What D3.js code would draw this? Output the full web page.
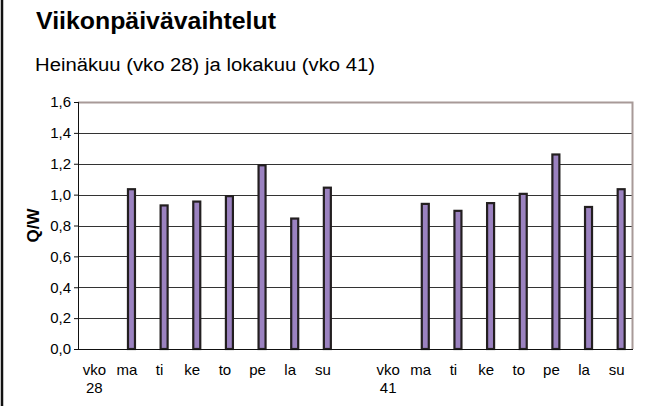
<!DOCTYPE html>
<meta charset="utf-8">
<style>
body { margin: 0; background: #fff; }
svg text { font-family: "Liberation Sans", Arial, sans-serif; fill: #000; }
</style>
<svg width="652" height="406"></svg>
<script src="https://d3js.org/d3.v7.min.js"></script>
<script>

// categories: vko 28 block, one empty slot, vko 41 block
var days = ["ma", "ti", "ke", "to", "pe", "la", "su"];
var week28 = [1.035, 0.93, 0.955, 0.99, 1.19, 0.845, 1.045];
var week41 = [0.94, 0.895, 0.945, 1.005, 1.26, 0.92, 1.035];
var yTicks = [0, 0.2, 0.4, 0.6, 0.8, 1.0, 1.2, 1.4, 1.6];

var slots = ["vko 28"].concat(days.map(function(d) { return "28-" + d; }))
    .concat(["gap", "vko 41"]).concat(days.map(function(d) { return "41-" + d; }));

var data = days.map(function(d, i) { return {key: "28-" + d, value: week28[i]}; })
    .concat(days.map(function(d, i) { return {key: "41-" + d, value: week41[i]}; }));

var svg = d3.select("svg");
var margin = {top: 102, right: 19, bottom: 57, left: 78};
var width = 652 - margin.left - margin.right,
    height = 406 - margin.top - margin.bottom;

// left frame line
svg.append("line")
    .attr("x1", 2).attr("x2", 2).attr("y1", 0).attr("y2", 406)
    .attr("stroke", "#111").attr("stroke-width", 2.5);

svg.append("text")
    .attr("x", 36).attr("y", 29)
    .style("font-size", "23px").style("font-weight", "bold")
    .attr("textLength", 240).attr("lengthAdjust", "spacingAndGlyphs")
    .text("Viikonpäivävaihtelut");
svg.append("text")
    .attr("x", 35).attr("y", 71)
    .style("font-size", "18px")
    .attr("textLength", 340).attr("lengthAdjust", "spacingAndGlyphs")
    .text("Heinäkuu (vko 28) ja lokakuu (vko 41)");

var g = svg.append("g").attr("transform", "translate(" + margin.left + "," + margin.top + ")");

var x = d3.scaleBand().domain(slots).range([0, width]);
var y = d3.scaleLinear().domain([0, 1.6]).range([height, 0]);

// gridlines
g.selectAll(".grid")
  .data(yTicks.slice(1, -1))
  .enter().append("line")
    .attr("x1", 0).attr("x2", width)
    .attr("y1", function(d) { return Math.round(y(d)) + 0.5; })
    .attr("y2", function(d) { return Math.round(y(d)) + 0.5; })
    .attr("stroke", "#333").attr("stroke-width", 1);

// plot area border (top and right)
g.append("path")
    .attr("d", "M0,0.5H" + (width - 0.5) + "V" + height)
    .attr("fill", "none").attr("stroke", "#a89a98").attr("stroke-width", 2);

// bars, drawn from the band centre to the right
var barW = 9;
g.selectAll(".bar")
  .data(data)
  .enter().append("rect")
    .attr("x", function(d) { return x(d.key) + x.bandwidth() / 2 + 1; })
    .attr("y", function(d) { return y(d.value); })
    .attr("width", barW - 2)
    .attr("height", function(d) { return height - y(d.value); })
    .attr("fill", "#9b82c0")
    .attr("stroke", "#231f20")
    .attr("stroke-width", 2.2);

// y axis
var yAxis = g.append("g")
    .call(d3.axisLeft(y).tickValues(yTicks).tickSize(4).tickPadding(3)
      .tickFormat(function(d) { return d3.format(".1f")(d).replace(".", ","); }));
yAxis.select(".domain").attr("stroke", "#111").attr("d", "M0.5,0V" + height);
yAxis.selectAll(".tick line").attr("stroke", "#111");
yAxis.selectAll(".tick text").attr("fill", "#222").style("font-size", "15px");

// x axis
var xAxis = g.append("g")
    .attr("transform", "translate(0," + height + ")")
    .call(d3.axisBottom(x).tickSize(0).tickPadding(15)
      .tickFormat(function(d) {
        if (d === "gap") return "";
        return d.indexOf("vko") === 0 ? d : d.split("-")[1];
      }));
xAxis.select(".domain").attr("stroke", "#111").attr("d", "M0," + 0.5 + "H" + width);
xAxis.selectAll(".tick text").attr("fill", "#222").style("font-size", "15px")
  .each(function(d) {
    if (d.indexOf("vko") !== 0) return;
    var t = d3.select(this), parts = d.split(" ");
    t.text(null);
    t.append("tspan").attr("x", 0).text(parts[0]);
    t.append("tspan").attr("x", 0).attr("dy", "1.25em").text(parts[1]);
  });

svg.append("text")
    .attr("transform", "translate(39," + (margin.top + height / 2) + ") rotate(-90)")
    .attr("text-anchor", "middle")
    .style("font-size", "17px").style("font-weight", "bold")
    .text("Q/W");

</script>
